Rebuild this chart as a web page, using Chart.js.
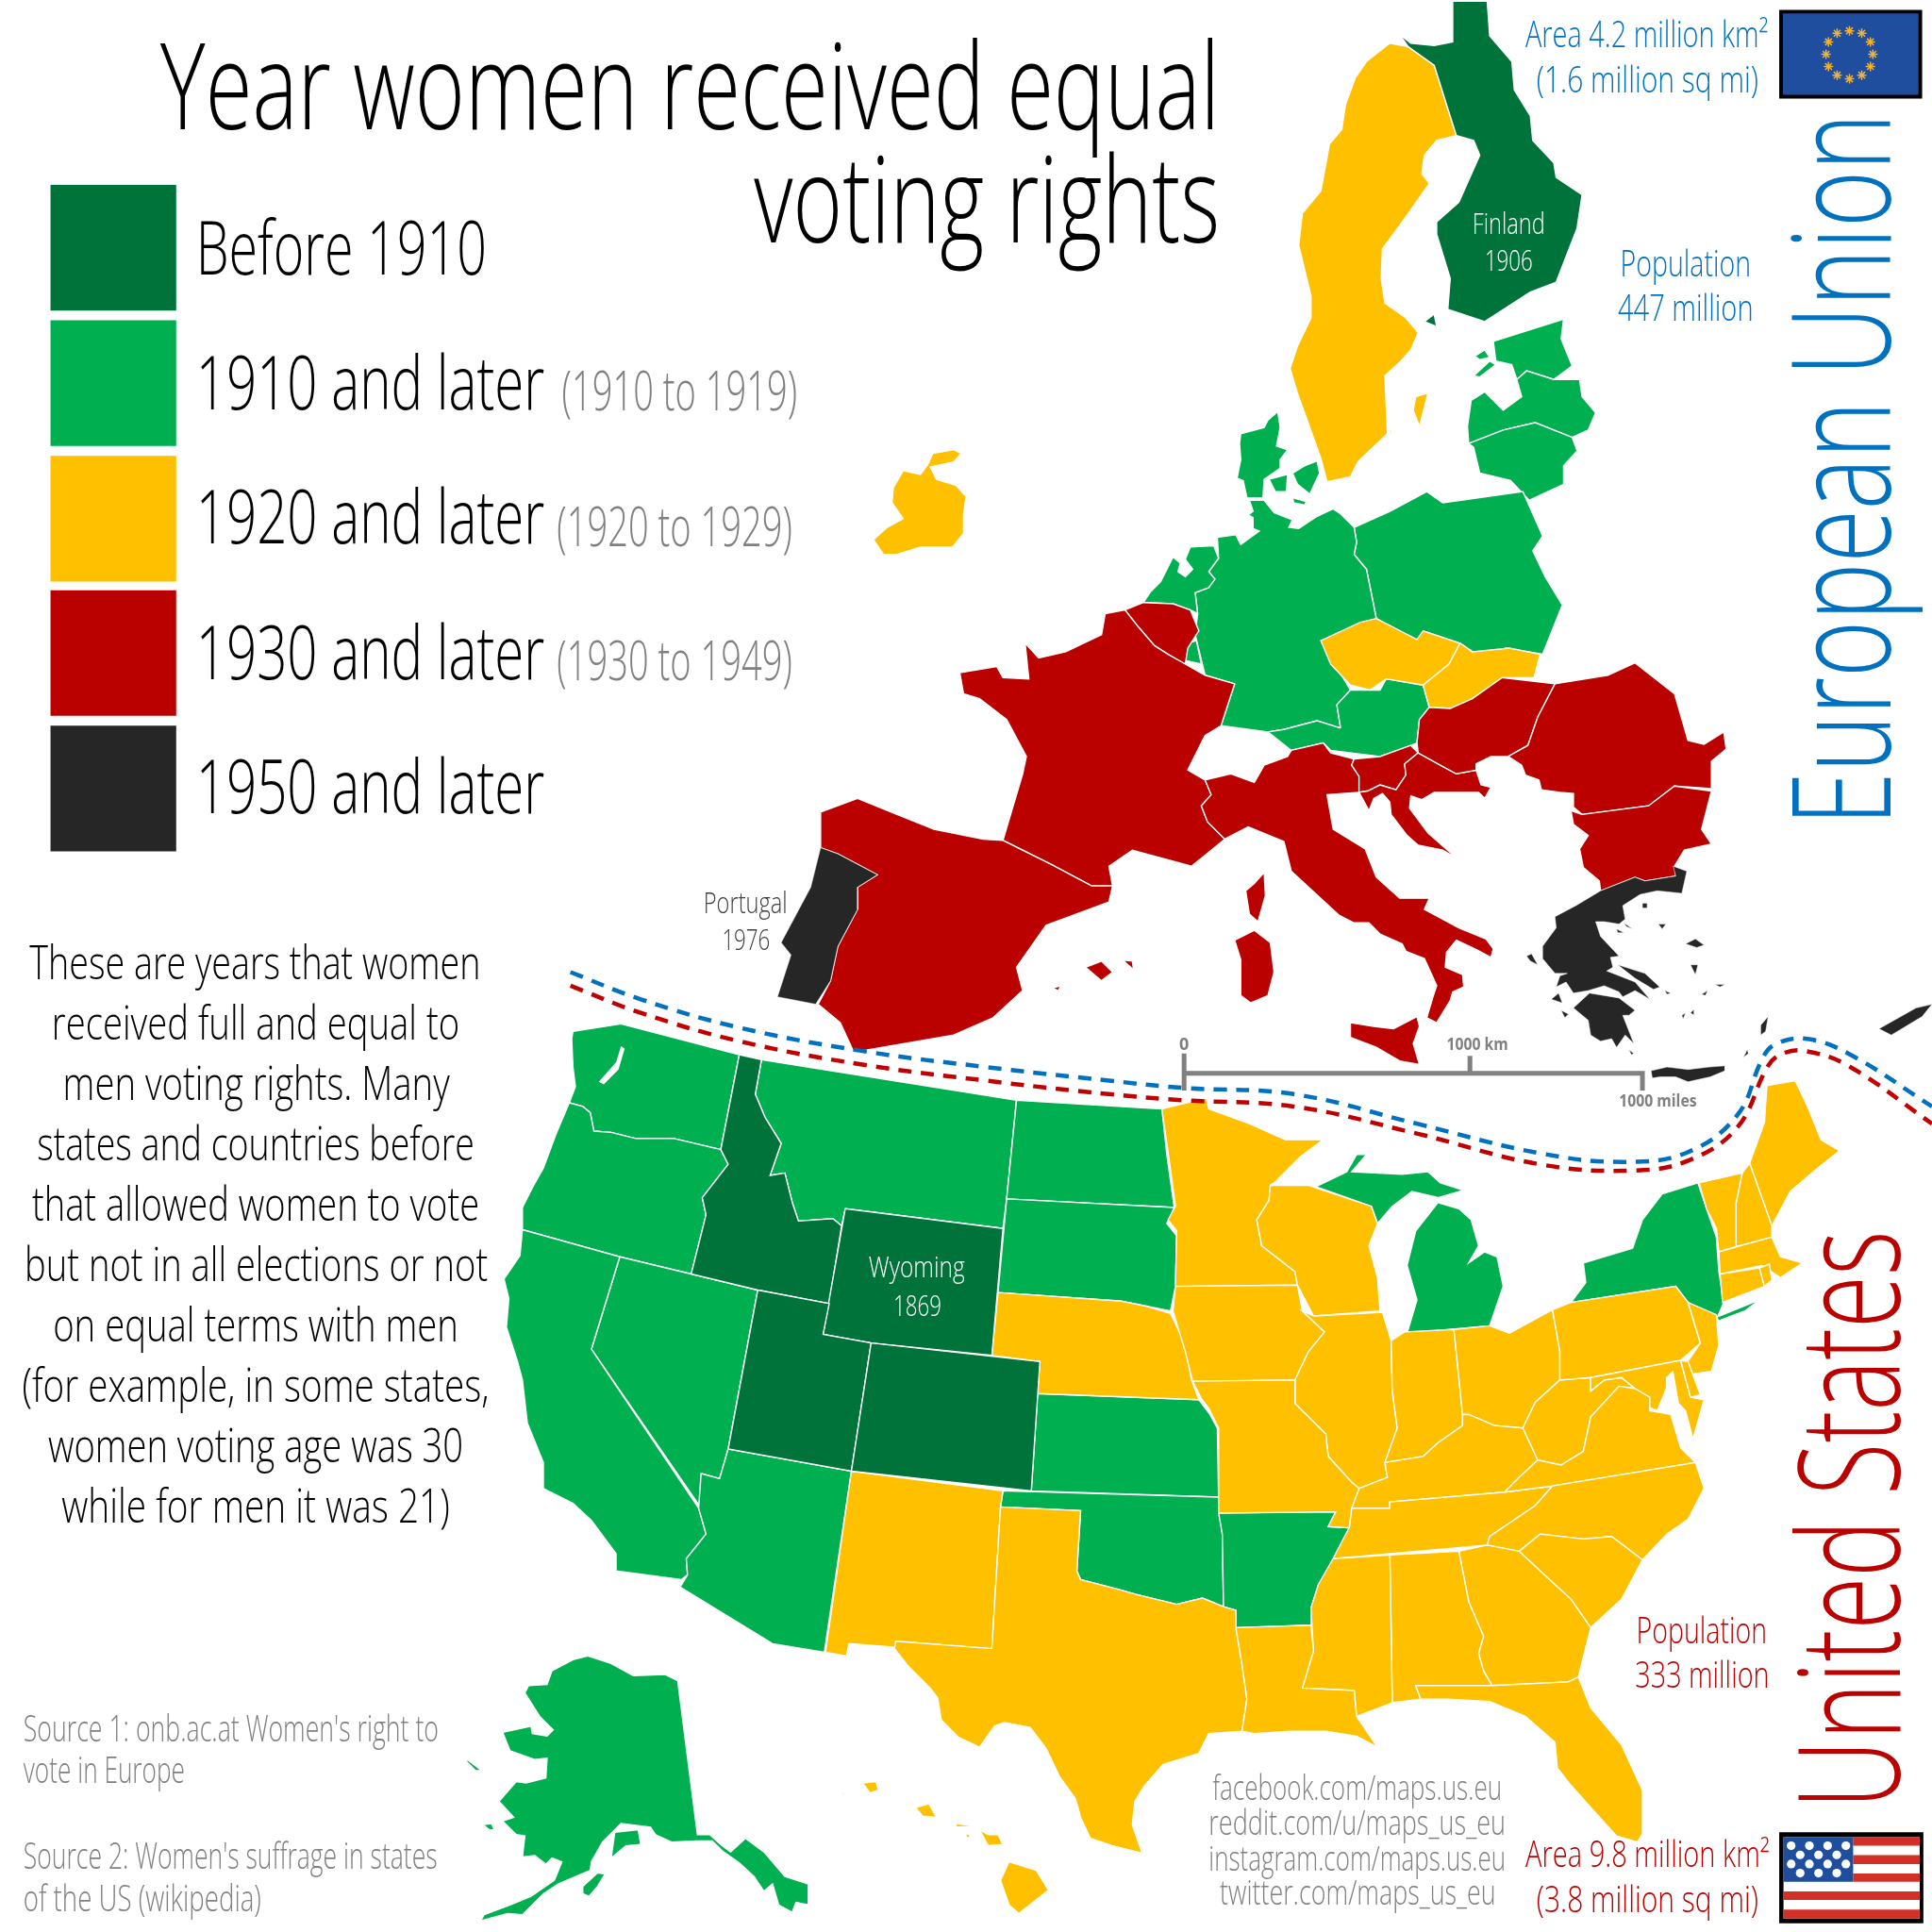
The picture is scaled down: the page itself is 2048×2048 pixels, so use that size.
<!DOCTYPE html>
<html>
<head>
<meta charset="utf-8">
<title>Year women received equal voting rights</title>
<script src="https://cdn.jsdelivr.net/npm/chart.js@4"></script>
<style>
  html, body { margin: 0; background: #fff; }
  canvas { display: block; }
</style>
</head>
<body>
<canvas id="map" width="2048" height="2048"></canvas>
<script>
// outlines, in x,y of a 1568 square
const washington = [[465,837],[504,831],[600,856],[585,933],[547,924],[516,924],[496,919],[482,918],[479,903],[473,898],[462,895],[467,882],[465,866],[464,843]];
const oregon = [[462,895],[473,898],[479,903],[482,918],[496,919],[516,924],[547,924],[585,933],[591,945],[570,972],[573,986],[561,1034],[503,1020],[424,998],[424,980],[432,964],[441,948],[451,921]];
const idaho = [[600,856],[618,860],[613,888],[621,907],[634,928],[625,954],[637,952],[643,976],[648,991],[676,989],[683,995],[673,1058],[615,1047],[561,1034],[573,986],[570,972],[591,945],[585,933]];
const montana = [[618,860],[825,893],[817,973],[814,997],[686,981],[683,995],[676,989],[648,991],[643,976],[637,952],[625,954],[634,928],[621,907],[613,888]];
const wyoming = [[686,981],[814,997],[805,1100],[707,1090],[668,1083]];
const northDakota = [[825,893],[943,900],[947,937],[953,980],[817,973]];
const southDakota = [[817,973],[953,980],[947,993],[955,1003],[954,1044],[950,1064],[930,1060],[910,1056],[810,1049]];
const nebraska = [[810,1049],[910,1056],[930,1060],[950,1066],[961,1089],[967,1120],[973,1136],[842,1131],[844,1105],[805,1100]];
const colorado = [[707,1090],[844,1105],[837,1210],[691,1194]];
const utah = [[615,1047],[673,1058],[668,1083],[707,1090],[691,1194],[591,1176]];
const nevada = [[503,1020],[615,1047],[591,1176],[584,1200],[570,1196],[569,1224],[480,1095]];
const california = [[424,998],[503,1020],[480,1095],[567,1224],[573,1245],[557,1265],[558,1278],[553,1282],[500,1275],[500,1261],[480,1234],[465,1220],[441,1208],[441,1187],[428,1155],[424,1120],[420,1105],[411,1077],[413,1054],[409,1038],[422,1019]];
const arizona = [[591,1176],[691,1194],[669,1341],[627,1334],[552,1288],[558,1278],[557,1265],[573,1245],[567,1224],[569,1196],[584,1200]];
const newMexico = [[691,1194],[814,1210],[812,1223],[805,1338],[727,1332],[727,1337],[689,1334],[687,1344],[670,1341]];
const kansas = [[842,1131],[973,1136],[982,1148],[988,1159],[989,1215],[837,1210]];
const oklahoma = [[814,1210],[989,1215],[992,1245],[993,1304],[976,1297],[955,1302],[922,1294],[908,1290],[877,1282],[874,1275],[877,1226],[812,1223]];
const texas = [[812,1223],[877,1226],[874,1275],[877,1282],[908,1290],[922,1294],[955,1302],[976,1297],[993,1304],[1003,1307],[1003,1321],[1008,1351],[1012,1379],[1008,1405],[981,1407],[973,1423],[944,1432],[929,1449],[921,1462],[919,1481],[927,1504],[903,1498],[885,1492],[877,1475],[873,1460],[860,1442],[849,1419],[836,1402],[815,1398],[807,1401],[795,1418],[778,1410],[764,1396],[761,1378],[755,1370],[737,1352],[726,1338],[727,1332],[805,1338]];
const minnesota = [[943,900],[979,891],[981,900],[1014,912],[1043,925],[1074,925],[1055,939],[1034,960],[1031,962],[1030,974],[1020,990],[1024,1011],[1051,1032],[1053,1043],[954,1044],[955,999],[948,990],[954,979],[948,935]];
const iowa = [[954,1044],[1053,1043],[1057,1064],[1075,1081],[1062,1097],[1051,1120],[968,1121],[962,1097],[952,1064]];
const wisconsin = [[1031,962],[1062,962],[1113,979],[1118,993],[1111,1011],[1118,1037],[1120,1064],[1066,1068],[1053,1043],[1051,1032],[1024,1011],[1020,990],[1030,974]];
const michiganUpper = [[1068,963],[1093,951],[1101,937],[1109,937],[1097,951],[1138,953],[1159,951],[1169,960],[1188,966],[1167,972],[1146,967],[1130,979],[1118,993],[1113,979]];
const michiganLower = [[1167,976],[1184,981],[1194,990],[1200,1011],[1192,1025],[1205,1016],[1215,1020],[1220,1044],[1209,1076],[1142,1082],[1150,1055],[1142,1027],[1149,999]];
const illinois = [[1066,1068],[1122,1065],[1129,1088],[1130,1129],[1134,1159],[1124,1187],[1126,1199],[1103,1208],[1097,1203],[1078,1182],[1076,1164],[1051,1139],[1051,1120],[1062,1097],[1075,1081],[1057,1064]];
const indiana = [[1129,1088],[1140,1081],[1180,1079],[1187,1148],[1187,1157],[1167,1171],[1155,1182],[1124,1187],[1134,1159],[1130,1129]];
const ohio = [[1180,1079],[1209,1076],[1225,1082],[1260,1063],[1266,1097],[1266,1120],[1246,1138],[1236,1159],[1213,1157],[1192,1148],[1187,1148]];
const kentucky = [[1124,1187],[1155,1182],[1167,1171],[1187,1157],[1187,1148],[1192,1148],[1213,1157],[1236,1159],[1248,1185],[1233,1199],[1221,1211],[1128,1219],[1128,1224],[1097,1224],[1103,1208],[1126,1199]];
const tennessee = [[1097,1224],[1128,1224],[1128,1219],[1221,1211],[1260,1206],[1246,1222],[1209,1247],[1207,1254],[1082,1265],[1095,1240]];
const westVirginia = [[1266,1120],[1246,1138],[1236,1159],[1248,1185],[1267,1189],[1285,1178],[1291,1150],[1314,1125],[1327,1127],[1316,1118],[1302,1120],[1291,1129],[1291,1118]];
const pennsylvania = [[1260,1063],[1275,1057],[1360,1044],[1370,1057],[1380,1090],[1364,1104],[1291,1118],[1266,1120],[1266,1097]];
const newYork = [[1275,1057],[1287,1041],[1285,1025],[1325,1013],[1333,990],[1349,969],[1378,960],[1385,981],[1393,1004],[1395,1032],[1399,1057],[1393,1071],[1370,1057],[1360,1044]];
const longIsland = [[1393,1069],[1428,1055],[1416,1064],[1395,1072]];
const newJersey = [[1370,1057],[1393,1067],[1395,1092],[1389,1113],[1374,1115],[1369,1106],[1380,1090]];
const maryland = [[1291,1118],[1364,1104],[1372,1134],[1383,1136],[1374,1168],[1368,1145],[1352,1128],[1345,1145],[1338,1142],[1327,1127],[1316,1118],[1302,1120],[1291,1129]];
const delaware = [[1364,1104],[1370,1105],[1380,1132],[1372,1134]];
const virginia = [[1314,1125],[1327,1127],[1339,1134],[1339,1145],[1356,1148],[1364,1175],[1376,1187],[1260,1206],[1221,1211],[1233,1199],[1248,1185],[1267,1189],[1285,1178],[1291,1150]];
const northCarolina = [[1260,1206],[1376,1187],[1383,1208],[1370,1233],[1353,1245],[1333,1266],[1308,1247],[1285,1249],[1250,1245],[1233,1259],[1207,1254],[1209,1247],[1246,1222]];
const southCarolina = [[1233,1259],[1250,1245],[1285,1249],[1308,1247],[1333,1266],[1316,1298],[1291,1321],[1275,1298],[1250,1275]];
const georgia = [[1184,1259],[1207,1254],[1233,1259],[1250,1275],[1275,1298],[1291,1321],[1281,1361],[1273,1365],[1211,1368],[1204,1356],[1200,1342],[1204,1328],[1192,1300]];
const alabama = [[1128,1262],[1184,1259],[1192,1300],[1204,1328],[1200,1342],[1204,1356],[1211,1368],[1149,1368],[1153,1379],[1130,1382]];
const mississippi = [[1082,1265],[1128,1262],[1130,1382],[1101,1393],[1099,1372],[1057,1370],[1066,1340],[1064,1305],[1070,1286]];
const louisiana = [[1003,1321],[1064,1319],[1066,1340],[1057,1370],[1099,1372],[1101,1393],[1118,1418],[1101,1409],[1076,1405],[1047,1405],[1018,1407],[1008,1405],[1012,1379],[1008,1351]];
const arkansas = [[989,1228],[1084,1227],[1078,1239],[1095,1240],[1082,1265],[1070,1286],[1064,1305],[1064,1319],[1003,1321],[1003,1307],[993,1304],[992,1245]];
const missouri = [[968,1121],[1051,1120],[1051,1139],[1076,1164],[1078,1182],[1097,1203],[1103,1208],[1097,1224],[1095,1240],[1078,1239],[1084,1227],[989,1228],[989,1159],[981,1143],[975,1135]];
const florida = [[1149,1368],[1211,1368],[1273,1365],[1281,1361],[1291,1386],[1316,1416],[1333,1453],[1333,1488],[1329,1495],[1312,1490],[1291,1467],[1275,1449],[1264,1435],[1262,1414],[1238,1393],[1209,1381],[1175,1379],[1153,1379]];
const maine = [[1420,944],[1432,911],[1434,881],[1457,877],[1467,898],[1478,925],[1493,934],[1474,949],[1453,967],[1438,995]];
const newHampshire = [[1414,952],[1420,944],[1438,995],[1438,1004],[1409,1012],[1409,976]];
const vermont = [[1379,960],[1414,952],[1409,976],[1409,1012],[1395,1016],[1393,997],[1385,981]];
const massachusetts = [[1395,1016],[1409,1012],[1438,1004],[1445,1020],[1463,1025],[1445,1037],[1430,1027],[1396,1034]];
const connecticut = [[1396,1034],[1428,1029],[1432,1044],[1398,1057]];
const rhodeIsland = [[1428,1029],[1436,1026],[1438,1039],[1432,1044]];
const alaska = [[550,1364],[566,1489],[576,1489],[586,1498],[593,1503],[605,1492],[620,1503],[637,1523],[656,1529],[656,1546],[646,1544],[643,1552],[632,1546],[627,1529],[620,1535],[612,1523],[600,1512],[586,1502],[578,1494],[566,1494],[545,1495],[532,1489],[528,1483],[504,1480],[489,1495],[480,1511],[479,1518],[453,1529],[441,1537],[424,1554],[412,1553],[390,1559],[393,1554],[414,1546],[431,1539],[450,1526],[456,1511],[448,1508],[443,1513],[434,1506],[424,1507],[426,1490],[419,1489],[408,1478],[417,1475],[405,1462],[419,1446],[427,1447],[443,1443],[444,1427],[434,1428],[414,1421],[408,1406],[431,1401],[432,1407],[444,1409],[449,1404],[438,1393],[426,1374],[429,1368],[444,1367],[448,1356],[465,1347],[477,1344],[496,1350],[514,1360],[540,1359]];
const kenai = [[499,1487],[518,1485],[520,1497],[508,1498],[496,1508]];
const kodiak = [[473,1531],[485,1520],[491,1521],[485,1531],[478,1539],[473,1537]];
const stLawrence = [[378,1427],[391,1437],[386,1437],[379,1430]];
const nunivak = [[392,1481],[399,1480],[401,1485],[397,1485]];
const hawaiiBig = [[819,1511],[841,1518],[851,1534],[827,1553],[819,1546],[812,1526]];
const maui = [[795,1485],[802,1489],[810,1489],[814,1497],[802,1498]];
const oahu = [[743,1467],[754,1464],[760,1475],[749,1474]];
const kauai = [[700,1447],[711,1446],[713,1453],[706,1455]];
const molokai = [[776,1480],[790,1482],[776,1483]];
const lanai = [[783,1488],[787,1489],[786,1493]];
const niihau = [[683,1457],[686,1452],[685,1457]];

const finland = [[1179,1],[1207,1],[1209,29],[1227,50],[1229,73],[1242,94],[1244,114],[1261,132],[1263,144],[1284,158],[1280,185],[1263,229],[1242,237],[1205,261],[1175,251],[1177,226],[1166,190],[1166,180],[1184,164],[1201,126],[1196,114],[1182,110],[1175,88],[1164,53],[1143,38],[1136,28],[1145,35],[1164,37],[1179,34],[1179,18]];
const aland = [[1156,261],[1164,255],[1166,265]];
const sweden = [[1128,35],[1143,38],[1164,53],[1175,88],[1182,110],[1166,114],[1156,126],[1154,141],[1160,149],[1141,176],[1122,202],[1121,226],[1124,246],[1141,258],[1151,270],[1145,284],[1136,294],[1124,305],[1126,352],[1102,375],[1096,387],[1077,391],[1072,372],[1053,319],[1047,299],[1053,281],[1064,258],[1064,240],[1054,199],[1057,173],[1072,155],[1079,117],[1089,105],[1092,85],[1100,63],[1109,50]];
const gotland = [[1149,322],[1159,319],[1152,346],[1147,333]];
const oland = [[1132,337],[1126,366],[1128,350]];
const estonia = [[1212,277],[1269,259],[1267,275],[1276,297],[1261,308],[1239,301],[1231,308],[1227,296],[1214,293]];
const saaremaa = [[1196,305],[1209,293],[1214,296],[1201,306]];
const hiiumaa = [[1197,289],[1205,284],[1209,290],[1201,292]];
const latvia = [[1194,325],[1205,318],[1220,333],[1235,322],[1231,308],[1239,301],[1261,308],[1282,308],[1284,322],[1295,335],[1289,349],[1276,355],[1246,343],[1220,349],[1192,360],[1191,346]];
const lithuania = [[1192,360],[1220,349],[1246,343],[1276,355],[1280,366],[1269,378],[1269,393],[1241,406],[1226,390],[1201,384],[1196,363]];
const poland = [[1099,428],[1128,415],[1158,399],[1171,408],[1236,399],[1252,435],[1244,447],[1254,468],[1268,491],[1252,531],[1222,526],[1203,534],[1185,522],[1155,512],[1150,520],[1117,502],[1109,462],[1099,450],[1101,440]];
const germany = [[988,436],[1003,434],[1007,442],[1022,431],[1017,429],[1017,420],[1013,418],[1017,415],[1014,406],[1026,406],[1034,416],[1049,422],[1046,428],[1054,429],[1069,419],[1082,413],[1088,417],[1096,425],[1099,428],[1101,440],[1099,450],[1109,462],[1117,502],[1072,520],[1096,560],[1085,572],[1088,591],[1069,585],[1042,592],[1029,594],[991,589],[1002,555],[978,548],[970,515],[972,498],[970,481],[981,477],[986,470],[981,464],[989,453]];
const jutland = [[1037,334],[1039,347],[1036,362],[1045,365],[1039,373],[1039,380],[1026,389],[1025,404],[1012,404],[1009,390],[1004,388],[1007,373],[1006,360],[1007,352],[1026,347],[1029,341]];
const zealand = [[1049,384],[1059,378],[1069,374],[1071,384],[1063,401],[1053,393]];
const funen = [[1030,389],[1045,385],[1044,399],[1035,399]];
const lolland = [[1049,404],[1060,407],[1059,410],[1050,408]];
const netherlands = [[952,452],[958,457],[956,464],[962,468],[968,462],[962,454],[966,444],[985,443],[989,453],[981,464],[986,470],[981,477],[970,481],[972,498],[966,495],[952,490],[928,489],[934,480],[942,472]];
const luxembourg = [[964,522],[971,520],[975,539],[962,536]];
const belgium = [[913,495],[928,489],[952,490],[966,495],[973,512],[964,526],[962,539],[948,531],[937,524],[924,509]];
const france = [[897,498],[913,495],[924,509],[937,524],[948,531],[962,539],[978,548],[1002,555],[991,589],[978,597],[964,625],[978,633],[983,645],[975,654],[980,667],[994,681],[988,686],[967,703],[919,690],[900,703],[903,719],[886,719],[854,702],[814,682],[830,628],[833,614],[817,584],[795,567],[782,563],[779,546],[809,541],[814,550],[835,551],[832,522],[843,534],[865,529],[894,515]];
const corsica = [[1026,708],[1027,727],[1021,748],[1014,742],[1011,723],[1018,717]];
const sardinia = [[1018,755],[1031,765],[1034,789],[1029,808],[1015,814],[1007,808],[1007,779],[1002,763]];
const italy = [[978,633],[999,628],[1018,635],[1026,621],[1045,614],[1048,609],[1074,603],[1080,611],[1099,616],[1097,621],[1103,630],[1103,643],[1077,645],[1082,673],[1108,689],[1117,712],[1136,729],[1160,729],[1156,738],[1184,753],[1206,762],[1212,770],[1210,777],[1199,771],[1182,763],[1174,773],[1173,785],[1187,791],[1188,801],[1179,805],[1177,812],[1166,830],[1158,826],[1163,809],[1166,800],[1156,778],[1141,772],[1138,766],[1120,758],[1111,749],[1099,749],[1087,743],[1048,707],[1042,683],[1013,671],[994,681],[980,667],[975,654],[983,645]];
const sicily = [[1096,830],[1115,833],[1131,835],[1150,825],[1152,833],[1147,847],[1152,864],[1136,861],[1117,850],[1096,842]];
const slovenia = [[1099,616],[1120,614],[1145,605],[1151,611],[1140,620],[1141,629],[1133,641],[1120,637],[1110,642],[1103,643],[1103,630],[1097,621]];
const croatia = [[1151,611],[1169,621],[1182,628],[1198,625],[1202,637],[1210,639],[1205,648],[1200,643],[1164,643],[1154,649],[1145,646],[1144,656],[1159,676],[1183,697],[1171,690],[1151,686],[1142,678],[1129,661],[1128,651],[1122,644],[1115,648],[1111,658],[1103,643],[1110,642],[1120,637],[1133,641],[1141,629],[1140,620]];
const hungary = [[1160,574],[1177,575],[1195,567],[1219,550],[1262,555],[1248,582],[1240,605],[1224,614],[1210,614],[1198,620],[1198,625],[1182,628],[1169,621],[1151,611],[1150,603],[1152,584]];
const romania = [[1262,555],[1305,548],[1327,538],[1359,563],[1370,601],[1383,604],[1399,594],[1401,608],[1389,618],[1389,640],[1359,638],[1338,654],[1284,661],[1277,655],[1277,644],[1266,643],[1251,641],[1249,633],[1238,629],[1235,621],[1224,614],[1240,605],[1248,582]];
const bulgaria = [[1284,661],[1338,654],[1359,638],[1389,642],[1381,673],[1389,685],[1367,690],[1359,703],[1360,711],[1335,715],[1327,712],[1299,723],[1298,715],[1285,704],[1282,689],[1289,678],[1277,669],[1275,658]];
const austria = [[1088,591],[1085,572],[1096,560],[1120,560],[1125,551],[1155,556],[1160,574],[1152,584],[1150,603],[1145,605],[1120,614],[1080,609],[1074,603],[1048,609],[1029,594],[1042,592],[1069,585]];
const czechia = [[1072,520],[1104,505],[1117,502],[1150,519],[1155,512],[1185,522],[1176,539],[1155,556],[1125,551],[1112,560],[1096,556],[1080,539]];
const slovakia = [[1185,522],[1195,529],[1225,526],[1250,531],[1245,550],[1219,550],[1195,567],[1177,575],[1160,574],[1155,556],[1176,539]];
const spain = [[666,659],[696,648],[728,661],[758,673],[798,681],[814,682],[854,702],[886,719],[903,719],[900,732],[849,751],[825,785],[830,804],[806,826],[774,840],[693,854],[682,830],[664,815],[674,796],[680,768],[696,738],[696,720],[712,710],[680,693],[666,688]];
const portugal = [[666,688],[680,693],[712,710],[696,720],[696,738],[680,768],[674,796],[662,815],[631,809],[642,775],[634,765],[658,720]];
const mallorca = [[881,785],[894,780],[903,789],[894,796]];
const menorca = [[911,779],[919,780],[920,787]];
const ibiza = [[854,802],[861,800],[859,804]];
const ireland = [[774,365],[780,368],[774,375],[755,379],[760,389],[776,394],[784,403],[782,418],[782,433],[773,444],[747,444],[728,450],[717,450],[709,438],[720,428],[733,421],[724,408],[725,396],[733,382],[747,385],[753,377],[757,368]];
const greece = [[1299,723],[1327,712],[1335,715],[1360,711],[1358,703],[1369,707],[1365,725],[1345,723],[1331,726],[1317,735],[1319,746],[1314,750],[1302,748],[1295,748],[1299,760],[1314,776],[1307,777],[1309,785],[1304,788],[1327,797],[1339,811],[1327,804],[1317,809],[1314,805],[1302,800],[1289,804],[1277,806],[1271,797],[1263,801],[1266,792],[1272,790],[1262,790],[1252,778],[1252,768],[1263,753],[1262,744],[1279,735],[1294,726]];
const peloponnese = [[1277,818],[1290,806],[1314,810],[1327,820],[1322,824],[1317,824],[1326,847],[1319,840],[1312,850],[1308,843],[1299,845],[1291,840],[1289,828]];
const euboea = [[1313,783],[1335,790],[1347,801],[1342,803],[1327,794]];
const prongA = [[1318,749],[1325,754],[1320,752]];
const prongB = [[1312,754],[1318,757],[1313,757]];
const thasos = [[1333,733],[1337,733],[1337,737],[1333,737]];
const lemnos = [[1346,750],[1352,750],[1349,754]];
const lesbos = [[1368,766],[1376,762],[1383,767],[1377,769]];
const chios = [[1372,783],[1378,783],[1376,791]];
const samos = [[1392,799],[1400,799],[1396,801]];
const ikaria = [[1381,807],[1386,804],[1384,808]];
const rhodes = [[1429,832],[1435,825],[1433,837],[1429,840]];
const crete = [[1340,869],[1353,866],[1370,868],[1387,866],[1400,865],[1400,869],[1388,874],[1370,878],[1360,874],[1347,874],[1341,875]];
const corfu = [[1239,776],[1243,774],[1248,783],[1242,780]];
const kefalonia = [[1259,811],[1265,806],[1268,814]];
const zakynthos = [[1267,820],[1273,823],[1270,826]];
const naxos = [[1372,822],[1375,819],[1375,824]];
const paros = [[1365,824],[1368,822],[1366,827]];
const andros = [[1351,804],[1356,806],[1353,807]];
const kythera = [[1322,852],[1326,855],[1324,856]];
const karpathos = [[1418,852],[1419,855],[1415,858]];
const cyprus = [[1525,835],[1555,818],[1568,815],[1560,825],[1535,840]];

// water that cuts into the land
const pugetSound = [[486,878],[500,862],[504,849],[507,851],[502,868],[490,880]];
const chesapeake = [[1352,1118],[1358,1112],[1362,1135],[1367,1160],[1358,1150],[1352,1138]];

const darkGreenRegions = [idaho, wyoming, utah, colorado, finland, aland];
const greenRegions = [washington, oregon, montana, northDakota, southDakota, nevada, california, arizona, kansas, oklahoma, arkansas, michiganUpper, michiganLower, newYork, longIsland, alaska, kenai, kodiak, stLawrence, nunivak,
  estonia, saaremaa, hiiumaa, latvia, lithuania, poland, germany, jutland, zealand, funen, lolland, netherlands, luxembourg, austria];
const yellowRegions = [nebraska, newMexico, texas, minnesota, iowa, wisconsin, illinois, indiana, ohio, kentucky, tennessee, westVirginia, pennsylvania, newJersey, maryland, delaware, virginia, northCarolina, southCarolina, georgia, alabama, mississippi, louisiana, missouri, florida, maine, newHampshire, vermont, massachusetts, connecticut, rhodeIsland, hawaiiBig, maui, oahu, kauai, molokai, lanai, niihau,
  sweden, gotland, oland, ireland, czechia, slovakia];
const redRegions = [belgium, france, corsica, sardinia, italy, sicily, slovenia, croatia, hungary, romania, bulgaria, spain, mallorca, menorca, ibiza];
const blackRegions = [portugal, greece, peloponnese, euboea, prongA, prongB, thasos, lemnos, lesbos, chios, samos, ikaria, rhodes, crete, corfu, kefalonia, zakynthos, naxos, paros, andros, kythera, karpathos, cyprus];
const waterRegions = [pugetSound, chesapeake];

const legendBoxes = [
  [[41,150],[143,150],[143,252],[41,252]],
  [[41,260],[143,260],[143,362],[41,362]],
  [[41,370],[143,370],[143,472],[41,472]],
  [[41,479],[143,479],[143,581],[41,581]],
  [[41,589],[143,589],[143,691],[41,691]]
];

const blueDivider = [[463,789],[520,811],[600,834],[700,853],[800,866],[900,877],[961,883],[1050,888],[1150,912],[1250,936],[1320,943],[1370,935],[1410,905],[1430,860],[1440,848],[1465,843],[1500,855],[1568,898]];
const redDivider = [[463,800],[520,822],[600,845],[700,864],[800,877],[900,888],[961,893],[1050,898],[1150,920],[1250,945],[1325,950],[1370,942],[1410,915],[1435,865],[1447,855],[1465,853],[1500,865],[1568,912]];

const scaleBar = [[961,885],[961,871],[1193,871],[1193,857],[1193,871],[1333,871],[1333,885],[1333,871],[961,871],[961,855]];

const euFlagFrame = [[1444,8],[1560,8],[1560,80],[1444,80]];
const euFlagField = [[1447,11],[1557,11],[1557,77],[1447,77]];
const euStars = [[1501,25],[1511,27],[1518,34],[1520,44],[1518,54],[1511,61],[1501,64],[1491,61],[1484,54],[1482,44],[1484,34],[1491,27]];

const usFlagFrame = [[1444,1487],[1561,1487],[1561,1561],[1444,1561]];
const usFlagField = [[1447.5,1491],[1558,1491],[1558,1557],[1447.5,1557]];
const usStripes = [
  [[1504,1491],[1558,1491],[1558,1498],[1504,1498]],
  [[1504,1505.6],[1558,1505.6],[1558,1512.8],[1504,1512.8]],
  [[1504,1520.5],[1558,1520.5],[1558,1527.3],[1504,1527.3]],
  [[1447.5,1535],[1558,1535],[1558,1542],[1447.5,1542]],
  [[1447.5,1549.8],[1558,1549.8],[1558,1557],[1447.5,1557]]
];
const usCanton = [[1447.5,1491],[1504,1491],[1504,1527.3],[1447.5,1527.3]];
const usStars = [[1453.7,1498],[1468.5,1498],[1483.3,1498],[1498.1,1498],[1461,1505.4],[1475.9,1505.4],[1490.7,1505.4],[1453.7,1512.8],[1468.5,1512.8],[1483.3,1512.8],[1498.1,1512.8],[1461,1520.2],[1475.9,1520.2],[1490.7,1520.2]];

// text, start x, baseline y, width, font px, colour
const titleText = [
  ["Year women received equal", 130, 105, 860, 128, "#000"],
  ["voting rights", 612, 197, 378, 128, "#000"]
];
const legendText = [
  ["Before 1910", 159, 223, 236, 80, "#000"],
  ["1910 and later", 159, 332, 283, 80, "#000"],
  ["(1910 to 1919)", 456, 333, 191, 58, "#808080"],
  ["1920 and later", 159, 441, 283, 80, "#000"],
  ["(1920 to 1929)", 452, 443, 191, 58, "#808080"],
  ["1930 and later", 159, 551, 283, 80, "#000"],
  ["(1930 to 1949)", 452, 552, 191, 58, "#808080"],
  ["1950 and later", 159, 660, 283, 80, "#000"]
];
const noteText = [
  ["These are years that women", 24, 795, 366, 49, "#000"],
  ["received full and equal to", 42, 844, 331, 49, "#000"],
  ["men voting rights. Many", 51, 893, 314, 49, "#000"],
  ["states and countries before", 30, 942, 355, 49, "#000"],
  ["that allowed women to vote", 26, 991, 363, 49, "#000"],
  ["but not in all elections or not", 20, 1040, 376, 49, "#000"],
  ["on equal terms with men", 43, 1089, 329, 49, "#000"],
  ["(for example, in some states,", 18, 1138, 379, 49, "#000"],
  ["women voting age was 30", 39, 1187, 337, 49, "#000"],
  ["while for men it was 21)", 50, 1236, 315, 49, "#000"]
];
const sourceText = [
  ["Source 1: onb.ac.at Women's right to", 19, 1413, 337, 38, "#808080"],
  ["vote in Europe", 19, 1447, 131, 38, "#808080"],
  ["Source 2: Women's suffrage in states", 19, 1517, 336, 38, "#808080"],
  ["of the US (wikipedia)", 19, 1551, 193, 38, "#808080"],
  ["facebook.com/maps.us.eu", 984, 1461, 235, 36, "#808080"],
  ["reddit.com/u/maps_us_eu", 981, 1489, 241, 36, "#808080"],
  ["instagram.com/maps.us.eu", 981, 1518, 241, 36, "#808080"],
  ["twitter.com/maps_us_eu", 990, 1546, 224, 36, "#808080"]
];
const factText = [
  ["Area 4.2 million km\u00b2", 1238, 38, 197, 38, "#0070C0"],
  ["(1.6 million sq mi)", 1247, 75, 180, 38, "#0070C0"],
  ["Population", 1315, 224, 106, 38, "#0070C0"],
  ["447 million", 1313, 260, 110, 38, "#0070C0"],
  ["Population", 1328, 1334, 106, 38, "#BB0000"],
  ["333 million", 1327, 1370, 109, 38, "#BB0000"],
  ["Area 9.8 million km\u00b2", 1238, 1515, 198, 38, "#BB0000"],
  ["(3.8 million sq mi)", 1247, 1552, 180, 38, "#BB0000"]
];
const placeText = [
  ["Finland", 1195, 190, 59, 32, "#fff"],
  ["1906", 1205, 220, 39, 32, "#fff"],
  ["Wyoming", 705, 1037, 78, 32, "#fff"],
  ["1869", 725, 1068, 39, 32, "#fff"],
  ["Portugal", 571, 741, 68, 32, "#404040"],
  ["1976", 586, 771, 39, 32, "#404040"]
];
const scaleText = [
  ["0", 957, 852, 8, 18, "#808080"],
  ["1000 km", 1174, 852, 50, 18, "#808080"],
  ["1000 miles", 1314, 898, 63, 18, "#808080"]
];
// text, baseline x, start y (reads upward), length, font px, colour
const sideText = [
  ["European Union", 1534, 670, 578, 146, "#0070C0"],
  ["United States", 1542, 1468, 469, 150, "#BB0000"]
];

const MAP_SIZE = 1568;
const DARK_GREEN = "#00733A";
const GREEN = "#00B050";
const YELLOW = "#FFC000";
const RED = "#BB0000";
const BLACK = "#262626";
const legendColors = [DARK_GREEN, GREEN, YELLOW, RED, BLACK];

function shape(points, color, borderColor, borderWidth) {
  return {
    data: points.concat([points[0]]),
    showLine: true,
    fill: "shape",
    backgroundColor: color,
    borderColor: borderColor,
    borderWidth: borderWidth,
    pointRadius: 0,
    tension: 0,
    clip: false
  };
}

let datasets = [];

function addLand(regions, color, edge) {
  regions.forEach(function (r) {
    datasets.push(shape(r, color, "#ffffff", edge));
  });
}

addLand(greenRegions, GREEN, 1.4);
addLand(yellowRegions, YELLOW, 1.4);
addLand(redRegions, RED, 1.4);
addLand(blackRegions, BLACK, 0.5);
addLand(darkGreenRegions, DARK_GREEN, 1.4);
waterRegions.forEach(function (r) { datasets.push(shape(r, "#ffffff", "#ffffff", 0)); });
legendBoxes.forEach(function (r, i) { datasets.push(shape(r, legendColors[i], legendColors[i], 0)); });

// dashed lines between the two maps
datasets.push({ data: blueDivider, showLine: true, borderColor: "#0070C0", borderWidth: 4.5, borderDash: [14, 10], pointRadius: 0, tension: 0.4, fill: false, clip: false });
datasets.push({ data: redDivider, showLine: true, borderColor: "#C00000", borderWidth: 4.5, borderDash: [14, 10], pointRadius: 0, tension: 0.4, fill: false, clip: false });
datasets.push({ data: scaleBar, showLine: true, borderColor: "#808080", borderWidth: 5, pointRadius: 0, tension: 0, fill: false, clip: false });

// flags
datasets.push(shape(euFlagFrame, "#000000", "#000000", 0));
datasets.push(shape(euFlagField, "#1F4E9E", "#1F4E9E", 0));
datasets.push({ data: euStars, showLine: false, pointStyle: "star", pointRadius: 5, borderWidth: 1.5, borderColor: "#F2B233", backgroundColor: "#F2B233" });
datasets.push(shape(usFlagFrame, "#000000", "#000000", 0));
datasets.push(shape(usFlagField, "#ffffff", "#ffffff", 0));
usStripes.forEach(function (r) { datasets.push(shape(r, "#D22F27", "#D22F27", 0)); });
datasets.push(shape(usCanton, "#1F4E9E", "#1F4E9E", 0));
datasets.push({ data: usStars, showLine: false, pointStyle: "circle", pointRadius: 4.6, borderWidth: 0, backgroundColor: "#ffffff" });

// first dataset is drawn on top in Chart.js, so turn the order around
datasets.forEach(function (d, i) { d.order = datasets.length - i; });

const textPlugin = {
  id: "mapText",
  afterDraw: function (chart) {
    const ctx = chart.ctx;
    const xs = chart.scales.x;
    const ys = chart.scales.y;
    const k = xs.getPixelForValue(1) - xs.getPixelForValue(0);

    function put(rows, weight) {
      rows.forEach(function (t) {
        ctx.font = weight + " " + t[4] + "px 'Open Sans'";
        ctx.fillStyle = t[5];
        ctx.fillText(t[0], xs.getPixelForValue(t[1]), ys.getPixelForValue(t[2]), t[3] * k);
      });
    }

    ctx.save();
    ctx.textAlign = "left";
    ctx.textBaseline = "alphabetic";
    put(titleText, 300);
    put(legendText, 300);
    put(noteText, 300);
    put(sourceText, 300);
    put(factText, 300);
    put(placeText, 300);
    put(scaleText, 700);
    sideText.forEach(function (t) {
      ctx.save();
      ctx.translate(xs.getPixelForValue(t[1]), ys.getPixelForValue(t[2]));
      ctx.rotate(-Math.PI / 2);
      ctx.font = "300 " + t[4] + "px 'Open Sans'";
      ctx.fillStyle = t[5];
      ctx.fillText(t[0], 0, 0, t[3] * k);
      ctx.restore();
    });
    ctx.restore();
  }
};

new Chart(document.getElementById("map").getContext("2d"), {
  type: "scatter",
  data: { datasets: datasets },
  options: {
    responsive: false,
    devicePixelRatio: 1,
    animation: false,
    events: [],
    layout: { padding: 0, autoPadding: false },
    plugins: { legend: { display: false }, tooltip: { enabled: false } },
    scales: {
      x: { type: "linear", display: false, min: 0, max: MAP_SIZE },
      y: { type: "linear", display: false, min: 0, max: MAP_SIZE, reverse: true }
    }
  },
  plugins: [textPlugin]
});
</script>
</body>
</html>
